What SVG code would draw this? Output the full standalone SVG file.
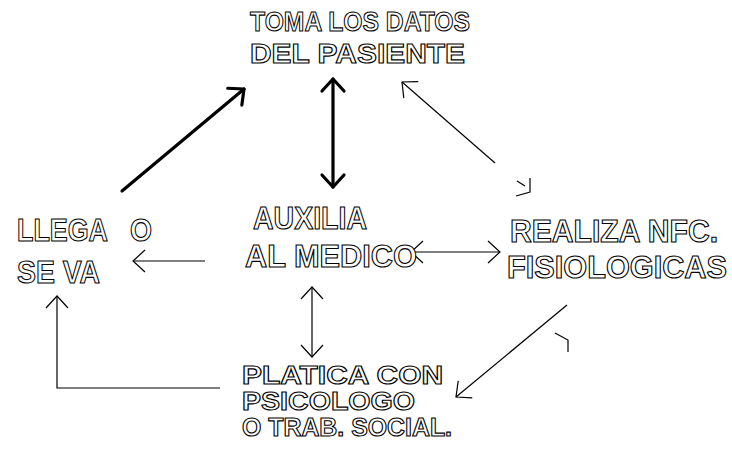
<svg xmlns="http://www.w3.org/2000/svg" width="732" height="455" viewBox="0 0 732 455">
<style>
.t{font-family:"Liberation Sans",Arial,sans-serif;font-size:31px;font-weight:bold;fill:#fff;stroke:#000;stroke-width:1.1;}
.s{font-size:28px;}
.thin{fill:none;stroke:#000;stroke-width:1.2;}
.thick{fill:none;stroke:#000;stroke-width:3.2;stroke-linecap:round;}
</style>
<defs>
<marker id="hThin" markerUnits="userSpaceOnUse" markerWidth="30" markerHeight="30" viewBox="-15 -15 30 30" refX="0" refY="0" orient="auto-start-reverse">
<path d="M -12 -11 L 0 0 L -12 11" fill="none" stroke="#000" stroke-width="1.2"/>
</marker>
<marker id="hThick" markerUnits="userSpaceOnUse" markerWidth="30" markerHeight="30" viewBox="-15 -15 30 30" refX="0" refY="0" orient="auto-start-reverse">
<path d="M -12 -11 L 0 0 L -12 11" fill="none" stroke="#000" stroke-width="3.2" stroke-linecap="round" stroke-linejoin="round"/>
</marker>
</defs>
<rect width="732" height="455" fill="#fff"/>
<g id="connectors">
<line class="thick" x1="122" y1="191" x2="244" y2="89" marker-end="url(#hThick)"/>
<line class="thick" x1="333" y1="79" x2="333" y2="187" marker-start="url(#hThick)" marker-end="url(#hThick)"/>
<line class="thin" x1="495" y1="163" x2="402" y2="82" marker-end="url(#hThin)"/>
<path class="thin" d="M517 181 L525 186 M530 178 L530 192 L516 196"/>
<line class="thin" x1="205" y1="261" x2="133" y2="261" marker-end="url(#hThin)"/>
<line class="thin" x1="411" y1="252" x2="500" y2="252" marker-start="url(#hThin)" marker-end="url(#hThin)"/>
<line class="thin" x1="312" y1="287" x2="312" y2="357" marker-start="url(#hThin)" marker-end="url(#hThin)"/>
<line class="thin" x1="567" y1="305" x2="456" y2="397" marker-end="url(#hThin)"/>
<path class="thin" d="M555 333 L568 340 L568 352"/>
<polyline class="thin" points="220,388 57,388 57,296" marker-end="url(#hThin)"/>
</g>
<g id="toma">
<text class="t s" x="250" y="31" textLength="220" lengthAdjust="spacingAndGlyphs">TOMA LOS DATOS</text>
<text class="t s" x="250" y="63" textLength="215" lengthAdjust="spacingAndGlyphs">DEL PASIENTE</text>
</g>
<g id="llega">
<text class="t" x="17" y="241" textLength="91" lengthAdjust="spacingAndGlyphs">LLEGA</text>
<text class="t" x="130" y="241" textLength="22" lengthAdjust="spacingAndGlyphs">O</text>
<text class="t" x="17" y="283" textLength="83" lengthAdjust="spacingAndGlyphs">SE VA</text>
</g>
<g id="auxilia">
<text class="t" x="253" y="229" textLength="114" lengthAdjust="spacingAndGlyphs">AUXILIA</text>
<text class="t" x="245" y="267" textLength="172" lengthAdjust="spacingAndGlyphs">AL MEDICO</text>
</g>
<g id="realiza">
<text class="t" x="510" y="242" textLength="208" lengthAdjust="spacingAndGlyphs">REALIZA NFC.</text>
<text class="t" x="507" y="278" textLength="220" lengthAdjust="spacingAndGlyphs">FISIOLOGICAS</text>
</g>
<g id="platica">
<text class="t s" x="242" y="384" font-size="25" style="font-size:25px" textLength="201" lengthAdjust="spacingAndGlyphs">PLATICA CON</text>
<text class="t s" x="242" y="410" style="font-size:25px" textLength="173" lengthAdjust="spacingAndGlyphs">PSICOLOGO</text>
<text class="t s" x="242" y="436" style="font-size:25px" textLength="210" lengthAdjust="spacingAndGlyphs">O TRAB. SOCIAL.</text>
</g>
</svg>
